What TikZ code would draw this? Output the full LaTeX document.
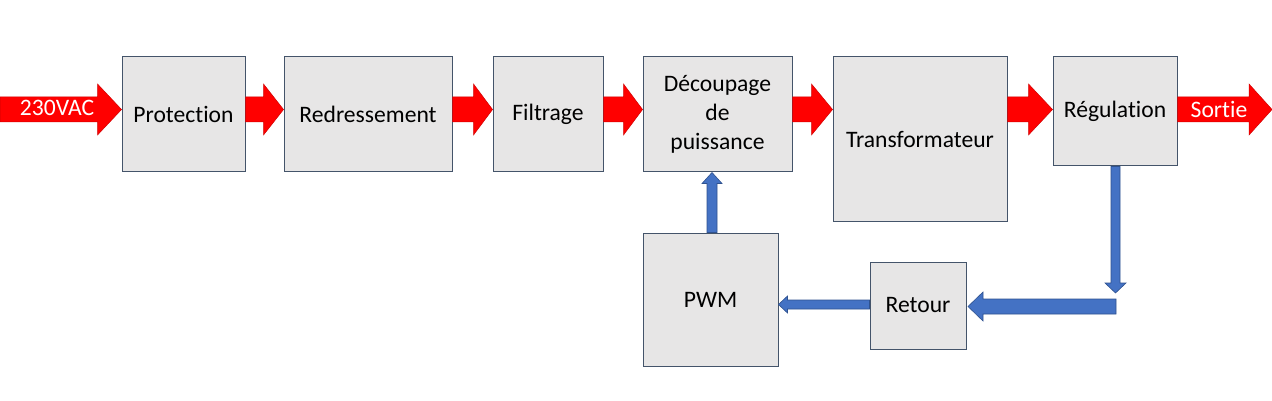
\documentclass[tikz,border=0pt]{standalone}
\usepackage{fontspec}
\setmainfont{Carlito}[Ligatures=NoCommon]
\usetikzlibrary{calc}
\definecolor{boxfill}{HTML}{E7E6E6}
\definecolor{boxline}{HTML}{44546A}
\definecolor{flowred}{HTML}{FF0000}
\definecolor{flowredline}{HTML}{D00000}
\definecolor{flowblue}{HTML}{4472C4}
\definecolor{flowblueline}{HTML}{2F528F}
\newcommand\harrowshape[6]{%
  \filldraw[#1] ($(#2)+(0,-#4)$) -- ($(#3)+(#6,-#4)$) -- ($(#3)+(#6,-#5)$) -- (#3)
    -- ($(#3)+(#6,#5)$) -- ($(#3)+(#6,#4)$) -- ($(#2)+(0,#4)$) -- cycle;}
\newcommand\varrowshape[6]{%
  \filldraw[#1] ($(#2)+(-#4,0)$) -- ($(#3)+(-#4,#6)$) -- ($(#3)+(-#5,#6)$) -- (#3)
    -- ($(#3)+(#5,#6)$) -- ($(#3)+(#4,#6)$) -- ($(#2)+(#4,0)$) -- cycle;}
\tikzset{
  blockbox/.style={draw=boxline, fill=boxfill, line width=1pt, align=center,
    inner sep=0pt, font=\fontsize{23.6}{29}\selectfont, text=black},
  redflow/.style={fill=flowred, draw=flowredline, line width=0.5pt},
  blueflow/.style={fill=flowblue, draw=flowblueline, line width=0.6pt},
  flowlabel/.style={text=white, font=\fontsize{23.6}{29}\selectfont, inner sep=0pt}
}
\begin{document}
\begin{tikzpicture}[x=1pt,y=-1pt]
\useasboundingbox[fill=white] (0,0) rectangle (1272,401);
% blocks
\node[blockbox, minimum width=123pt, minimum height=115pt] (prot) at (183.5,114.5) {Protection};
\node[blockbox, minimum width=168pt, minimum height=115pt] (redr) at (368,114.5) {Redressement};
\node[blockbox, minimum width=110pt, minimum height=115pt] (filt) at (548,114.5) {Filtrage};
\node[blockbox, minimum width=149pt, minimum height=115pt] (dec) at (717.5,114.5) {Découpage\\de\\puissance};
\node[blockbox, minimum width=174pt, minimum height=164pt] (transf) at (920,139) {Transformateur};
\node[blockbox, minimum width=124pt, minimum height=109pt] (regul) at (1115,111.5) {Régulation};
\node[blockbox, minimum width=135pt, minimum height=133pt] (pwm) at (710.5,299.5) {PWM};
\node[blockbox, minimum width=96pt, minimum height=87pt] (retour) at (918,305.5) {Retour};
% levels
\coordinate (lvl) at (0,109.5);
\coordinate (lvlb) at (0,304.5);
\coordinate (lvlc) at (712,0);
\coordinate (in0) at (0,109.5);
\coordinate (out0) at (1272,109.5);
\coordinate (fbkdown) at (1115.5,293);
\coordinate (fbkstart) at (1116,306.5);
\coordinate (fbktip) at (968,306.5);
% red flow arrows
\harrowshape{redflow}{in0}{prot.west |- lvl}{12.5}{25.5}{-24}
\harrowshape{redflow}{prot.east |- lvl}{redr.west |- lvl}{12.5}{25.5}{-20}
\harrowshape{redflow}{redr.east |- lvl}{filt.west |- lvl}{12.5}{25.5}{-19}
\harrowshape{redflow}{filt.east |- lvl}{dec.west |- lvl}{12.5}{25.5}{-19}
\harrowshape{redflow}{dec.east |- lvl}{transf.west |- lvl}{12.5}{25.5}{-21}
\harrowshape{redflow}{transf.east |- lvl}{regul.west |- lvl}{12.5}{25.5}{-24}
\harrowshape{redflow}{regul.east |- lvl}{out0}{12.5}{25.5}{-23}
\node[flowlabel] (inlabel) at (57,108) {230VAC};
\node[flowlabel] (outlabel) at (1219,109) {Sortie};
% blue feedback arrows
\varrowshape{blueflow}{regul.south -| fbkdown}{fbkdown}{4.5}{10.5}{-10}
\harrowshape{blueflow}{fbkstart}{fbktip}{7.5}{14.5}{15}
\harrowshape{blueflow}{retour.west |- lvlb}{pwm.east |- lvlb}{4.5}{8.5}{9}
\varrowshape{blueflow}{lvlc |- pwm.north}{lvlc |- dec.south}{5}{10}{11}
\end{tikzpicture}
\end{document}
